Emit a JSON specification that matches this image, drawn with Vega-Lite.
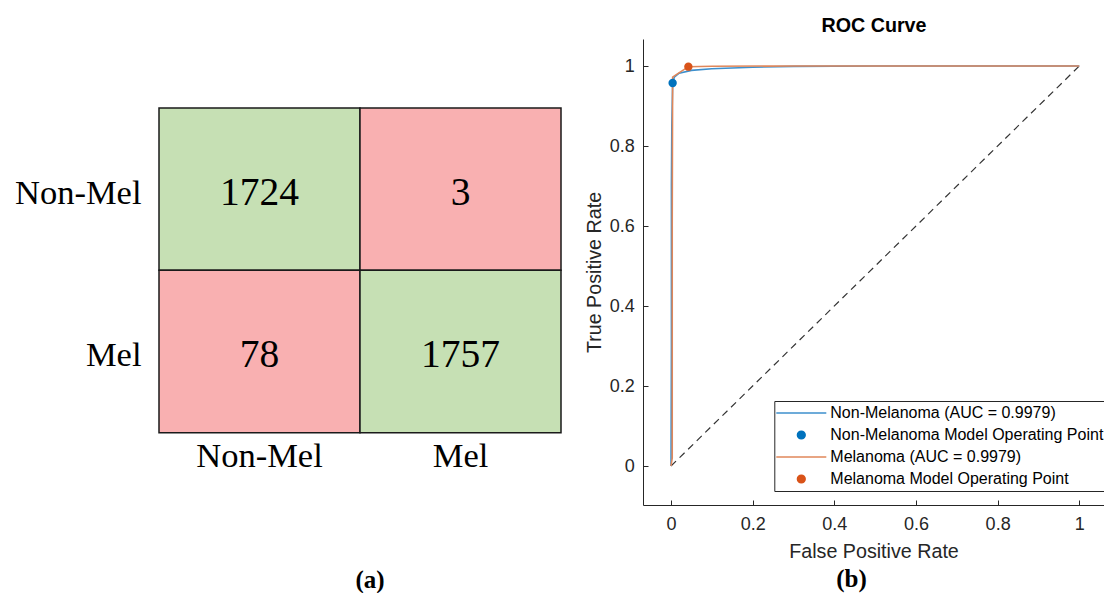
{
  "$schema": "https://vega.github.io/schema/vega-lite/v6.json",
  "background": "white",
  "padding": {"left": 14, "top": 15, "right": 0, "bottom": 0},
  "spacing": 82,
  "bounds": "flush",
  "config": {"view": {"stroke": null}, "axis": {"grid": false}, "font": "Liberation Sans"},
  "resolve": {"scale": {"color": "independent", "fill": "independent"}, "legend": {"color": "independent", "fill": "independent"}},
  "datasets": {
    "matrix": [
      {"actual": "Non-Mel", "predicted": "Non-Mel", "count": 1724, "outcome": "correct"},
      {"actual": "Non-Mel", "predicted": "Mel", "count": 3, "outcome": "wrong"},
      {"actual": "Mel", "predicted": "Non-Mel", "count": 78, "outcome": "wrong"},
      {"actual": "Mel", "predicted": "Mel", "count": 1757, "outcome": "correct"}
    ],
    "roc": [
      {"series": "Non-Melanoma (AUC = 0.9979)", "i": 0, "fpr": 0, "tpr": 0},
      {"series": "Non-Melanoma (AUC = 0.9979)", "i": 1, "fpr": 0.001, "tpr": 0.3},
      {"series": "Non-Melanoma (AUC = 0.9979)", "i": 2, "fpr": 0.001, "tpr": 0.7},
      {"series": "Non-Melanoma (AUC = 0.9979)", "i": 3, "fpr": 0.002, "tpr": 0.85},
      {"series": "Non-Melanoma (AUC = 0.9979)", "i": 4, "fpr": 0.004, "tpr": 0.9575},
      {"series": "Non-Melanoma (AUC = 0.9979)", "i": 5, "fpr": 0.008, "tpr": 0.972},
      {"series": "Non-Melanoma (AUC = 0.9979)", "i": 6, "fpr": 0.02, "tpr": 0.982},
      {"series": "Non-Melanoma (AUC = 0.9979)", "i": 7, "fpr": 0.05, "tpr": 0.989},
      {"series": "Non-Melanoma (AUC = 0.9979)", "i": 8, "fpr": 0.1, "tpr": 0.993},
      {"series": "Non-Melanoma (AUC = 0.9979)", "i": 9, "fpr": 0.2, "tpr": 0.997},
      {"series": "Non-Melanoma (AUC = 0.9979)", "i": 10, "fpr": 0.3, "tpr": 0.999},
      {"series": "Non-Melanoma (AUC = 0.9979)", "i": 11, "fpr": 0.5, "tpr": 1},
      {"series": "Non-Melanoma (AUC = 0.9979)", "i": 12, "fpr": 1, "tpr": 1},
      {"series": "Melanoma (AUC = 0.9979)", "i": 0, "fpr": 0, "tpr": 0},
      {"series": "Melanoma (AUC = 0.9979)", "i": 1, "fpr": 0.003, "tpr": 0.02},
      {"series": "Melanoma (AUC = 0.9979)", "i": 2, "fpr": 0.003, "tpr": 0.6},
      {"series": "Melanoma (AUC = 0.9979)", "i": 3, "fpr": 0.004, "tpr": 0.972},
      {"series": "Melanoma (AUC = 0.9979)", "i": 4, "fpr": 0.012, "tpr": 0.978},
      {"series": "Melanoma (AUC = 0.9979)", "i": 5, "fpr": 0.0425, "tpr": 0.9983},
      {"series": "Melanoma (AUC = 0.9979)", "i": 6, "fpr": 0.1, "tpr": 0.9995},
      {"series": "Melanoma (AUC = 0.9979)", "i": 7, "fpr": 0.3, "tpr": 1},
      {"series": "Melanoma (AUC = 0.9979)", "i": 8, "fpr": 1, "tpr": 1}
    ],
    "ops": [
      {"series": "Non-Melanoma Model Operating Point", "fpr": 0.004, "tpr": 0.9575},
      {"series": "Melanoma Model Operating Point", "fpr": 0.0425, "tpr": 0.9983}
    ],
    "diag": [
      {"fpr": 0, "tpr": 0},
      {"fpr": 1, "tpr": 1}
    ]
  },
  "hconcat": [
    {
      "width": 402,
      "height": 466,
      "data": {"name": "matrix"},
      "title": {"text": "(a)", "orient": "bottom", "frame": "group", "anchor": "middle", "font": "Liberation Serif", "fontSize": 25, "fontWeight": "bold", "color": "#000000", "offset": 63, "dx": 10},
      "encoding": {
        "x": {
          "field": "predicted", "type": "nominal", "sort": ["Non-Mel", "Mel"],
          "scale": {"paddingInner": 0, "paddingOuter": 0},
          "axis": {"title": null, "orient": "bottom", "offset": -72.3, "domain": false, "ticks": false, "labelAngle": 0, "labelFont": "Liberation Serif", "labelFontSize": 34.5, "labelColor": "#000000", "labelPadding": 7}
        },
        "y": {
          "field": "actual", "type": "nominal", "sort": ["Non-Mel", "Mel"],
          "scale": {"paddingInner": 0, "paddingOuter": 0.4353, "align": 0.488},
          "axis": {"title": null, "domain": false, "ticks": false, "labelAngle": 0, "labelFont": "Liberation Serif", "labelFontSize": 34.5, "labelColor": "#000000", "labelPadding": 18, "labelOffset": 4.5}
        }
      },
      "layer": [
        {
          "mark": {"type": "rect", "stroke": "#1a1a1a", "strokeWidth": 1.5},
          "encoding": {
            "fill": {"field": "outcome", "type": "nominal", "scale": {"domain": ["correct", "wrong"], "range": ["#c6e0b4", "#f9b0b1"]}, "legend": null}
          }
        },
        {
          "mark": {"type": "text", "font": "Liberation Serif", "fontSize": 39.5, "color": "#000000", "dy": 4},
          "encoding": {"text": {"field": "count", "type": "quantitative"}}
        }
      ]
    },
    {
      "width": 461,
      "height": 466,
      "title": {"text": "(b)", "orient": "bottom", "frame": "group", "anchor": "middle", "font": "Liberation Serif", "fontSize": 25, "fontWeight": "bold", "color": "#000000", "offset": 6.5, "dx": -22},
      "encoding": {
        "y": {
          "field": "tpr", "type": "quantitative",
          "scale": {"domain": [-0.0975, 1.0675], "nice": false, "zero": false},
          "axis": {"title": "True Positive Rate", "values": [0, 0.2, 0.4, 0.6, 0.8, 1], "format": "~g", "domainColor": "#262626", "tickColor": "#262626", "tickSize": -5, "labelFont": "Liberation Sans", "labelFontSize": 18, "labelColor": "#262626", "labelPadding": 13.7, "titleFont": "Liberation Sans", "titleFontSize": 19.7, "titleFontWeight": "normal", "titleColor": "#262626", "titlePadding": 5, "grid": false}
        }
      },
      "layer": [
        {
          "data": {"name": "diag"},
          "mark": {"type": "line", "color": "#333333", "strokeWidth": 1.2, "strokeDash": [7, 5]},
          "encoding": {
            "x": {
              "field": "fpr", "type": "quantitative",
              "scale": {"domain": [-0.0686, 1.0605], "nice": false, "zero": false},
              "axis": {"title": "False Positive Rate", "orient": "bottom", "values": [0, 0.2, 0.4, 0.6, 0.8, 1], "format": "~g", "labelFlush": false, "domainColor": "#262626", "tickColor": "#262626", "tickSize": -5, "labelFont": "Liberation Sans", "labelFontSize": 18, "labelColor": "#262626", "labelPadding": 15, "titleFont": "Liberation Sans", "titleFontSize": 19.7, "titleFontWeight": "normal", "titleColor": "#262626", "titlePadding": 8, "grid": false}
            }
          }
        },
        {
          "data": {"name": "roc"},
          "transform": [{"filter": {"field": "series", "equal": "Non-Melanoma (AUC = 0.9979)"}}],
          "mark": {"type": "line", "strokeWidth": 1.6},
          "encoding": {
            "x": {"field": "fpr", "type": "quantitative", "scale": {"domain": [-0.0686, 1.0605], "nice": false, "zero": false}, "axis": null},
            "order": {"field": "i", "type": "quantitative"},
            "color": {
              "field": "series", "type": "nominal",
              "scale": {
                "domain": ["Non-Melanoma (AUC = 0.9979)", "Non-Melanoma Model Operating Point", "Melanoma (AUC = 0.9979)", "Melanoma Model Operating Point"],
                "range": ["#3d8fcc", "#0072bd", "#e0875a", "#d95319"]
              },
              "legend": {
                "title": null, "orient": "none", "legendX": 131.3, "legendY": 362, "direction": "vertical",
                "symbolSize": 2500, "symbolType": "stroke", "symbolStrokeWidth": 1.5, "clipHeight": 22, "rowPadding": 0, "padding": 1, "labelOffset": 3,
                "labelFont": "Liberation Sans", "labelFontSize": 16, "labelColor": "#000000", "labelLimit": 400,
                "strokeColor": "#262626", "fillColor": "#ffffff",
                "encode": {
                  "symbols": {
                    "update": {
                      "shape": {"signal": "datum.index % 2 == 1 ? 'circle' : 'stroke'"},
                      "size": {"signal": "datum.index % 2 == 1 ? 60 : 2500"},
                      "fill": {"signal": "datum.index == 1 ? '#0072bd' : datum.index == 3 ? '#d95319' : 'transparent'"},
                      "stroke": {"signal": "datum.index == 0 ? '#3d8fcc' : datum.index == 2 ? '#e0875a' : 'transparent'"},
                      "strokeWidth": {"value": 1.5},
                      "opacity": {"value": 1}
                    }
                  }
                }
              }
            }
          }
        },
        {
          "data": {"name": "roc"},
          "transform": [{"filter": {"field": "series", "equal": "Melanoma (AUC = 0.9979)"}}],
          "mark": {"type": "line", "strokeWidth": 1.6},
          "encoding": {
            "x": {"field": "fpr", "type": "quantitative", "scale": {"domain": [-0.0686, 1.0605], "nice": false, "zero": false}, "axis": null},
            "order": {"field": "i", "type": "quantitative"},
            "color": {"field": "series", "type": "nominal"}
          }
        },
        {
          "data": {"name": "ops"},
          "mark": {"type": "point", "filled": true, "size": 70, "opacity": 1},
          "encoding": {
            "x": {"field": "fpr", "type": "quantitative", "scale": {"domain": [-0.0686, 1.0605], "nice": false, "zero": false}, "axis": null},
            "color": {"field": "series", "type": "nominal"}
          }
        },
        {
          "data": {"name": "diag"},
          "mark": {"type": "point", "opacity": 0},
          "encoding": {
            "x": {
              "field": "fpr", "type": "quantitative",
              "scale": {"domain": [-0.0686, 1.0605], "nice": false, "zero": false},
              "axis": {"title": "ROC Curve", "orient": "top", "labels": false, "ticks": false, "domain": false, "grid": false, "titleFont": "Liberation Sans", "titleFontSize": 19.7, "titleFontWeight": "bold", "titleColor": "#000000", "titlePadding": 4}
            }
          }
        }
      ],
      "resolve": {"axis": {"x": "independent"}}
    }
  ]
}
